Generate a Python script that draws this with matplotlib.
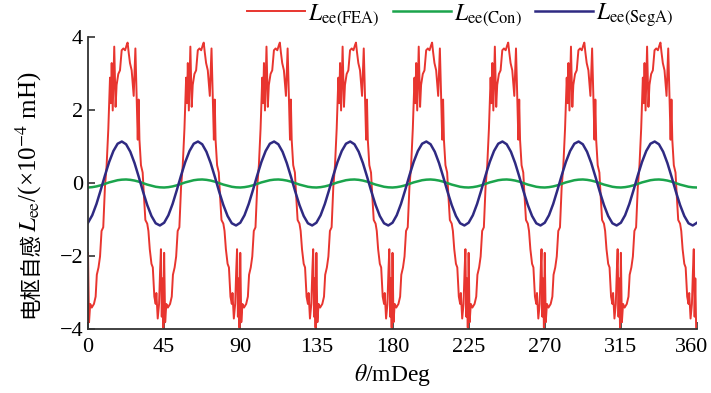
import numpy as np
import matplotlib
matplotlib.use('Agg')
import matplotlib.pyplot as plt
import matplotlib.transforms as mtransforms

plt.rcParams['font.family'] = ['Liberation Serif', 'Noto Sans CJK SC']
plt.rcParams['mathtext.fontset'] = 'stix'

# one 45 mDeg period of each curve (repeats 8 times)
period = 45
n_periods = 8

fea_x = [0.0, 0.6, 1.3, 2.2, 3.5, 4.5, 5.2, 6.2, 7.1, 8.0, 9.0, 10.0, 11.0, 12.0,
         13.0, 13.5, 14.0, 14.6, 15.5, 16.3, 16.9, 17.9, 18.9, 19.9, 20.9, 21.9,
         22.9, 23.4, 24.0, 24.8, 25.8, 27.0, 28.0, 28.8, 29.4, 29.9, 30.4, 31.3,
         32.3, 33.0, 33.9, 35.0, 35.7, 36.5, 37.5, 38.3, 39.2, 40.0, 40.4, 41.2,
         42.0, 42.6, 43.1, 43.6, 44.0, 44.5]
fea_y = [-1.9, -3.8, -3.3, -3.4, -3.3, -3.1, -2.5, -2.3, -2.0, -1.3, -1.2, -0.1, 0.5, 1.5,
         2.9, 2.2, 3.3, 2.0, 3.75, 2.1, 2.7, 3.0, 3.1, 3.65, 3.7, 3.65,
         3.8, 3.86, 3.6, 3.3, 3.1, 2.4, 3.7, 2.3, 1.2, 2.3, 1.2, 0.5,
         0.3, -0.3, -1.0, -1.1, -1.3, -1.8, -2.2, -2.3, -3.1, -3.3, -3.0, -3.7,
         -3.3, -2.4, -1.8, -3.65, -2.6, -3.95]

smooth_x = [0, 2.5, 5, 7.5, 10, 12.5, 15, 17.5, 20, 22.5, 25, 27.5, 30, 32.5,
            35, 37.5, 40, 42.5]
con_y = [-0.11, -0.10, -0.08, -0.05, -0.01, 0.03, 0.06, 0.09, 0.105, 0.11,
         0.10, 0.08, 0.05, 0.01, -0.03, -0.06, -0.09, -0.105]
sega_y = [-1.075, -0.87, -0.56, -0.18, 0.22, 0.59, 0.89, 1.09, 1.15, 1.075,
          0.87, 0.56, 0.18, -0.22, -0.59, -0.89, -1.09, -1.15]

xticks = [0, 45, 90, 135, 180, 225, 270, 315, 360]
yticks = [-4, -2, 0, 2, 4]


def tile(xs, ys, close=False):
    x_all, y_all = [], []
    for k in range(n_periods):
        x_all += [x + k * period for x in xs]
        y_all += ys
    if close:
        x_all.append(n_periods * period)
        y_all.append(ys[0])
    return np.array(x_all), np.array(y_all)


fx, fy = tile(fea_x, fea_y)
cx, cy = tile(smooth_x, con_y, close=True)
sx, sy = tile(smooth_x, sega_y, close=True)

fig = plt.figure(figsize=(7.11, 3.93), dpi=100)
ax = fig.add_axes([0.1238, 0.1616, 0.8565, 0.743])

l1, = ax.plot(fx, fy, color='#e8352f', lw=1.4, label=r'$L_{\rm ee(FEA)}$')
l2, = ax.plot(cx, cy, color='#1ba44c', lw=1.8, label=r'$L_{\rm ee(Con)}$')
l3, = ax.plot(sx, sy, color='#2f2a82', lw=1.8, label=r'$L_{\rm ee(SegA)}$')

ax.set_xlim(0, 360)
ax.set_ylim(-4, 4)
ax.set_xticks(xticks)
ax.set_yticks(yticks)
ax.set_yticklabels(['\u22124', '\u22122', '0', '2', '4'])
ax.tick_params(direction='in', length=5, width=1.2, labelsize=16, color='#333333')
ax.tick_params(axis='x', pad=6)
for s in ['top', 'right']:
    ax.spines[s].set_visible(False)
for s in ['left', 'bottom']:
    ax.spines[s].set_linewidth(1.3)
    ax.spines[s].set_color('#333333')

# nudge the last x label so it stays inside the figure
last = ax.get_xticklabels()[-1]
last.set_transform(last.get_transform() +
                   mtransforms.ScaledTranslation(-5 / 100, 0, fig.dpi_scale_trans))

ax.set_xlabel(r'$\theta$/mDeg', fontsize=17, labelpad=4)

# y label in two pieces: CJK part and the math part
base_x = 0.051
join_y = 1 - 232 / 393
fig.text(base_x, join_y, '电枢自感', family='Noto Sans CJK SC', fontsize=15.5,
         rotation=90, rotation_mode='anchor', ha='right', va='baseline')
fig.text(base_x, join_y, r'$L_{\rm ee}$/(×10$^{-4}$ mH)', fontsize=18,
         rotation=90, rotation_mode='anchor', ha='left', va='baseline')

fig.legend(handles=[l1, l2, l3], loc='center', bbox_to_anchor=(0.647, 0.962),
           ncol=3, frameon=False, fontsize=17, handlelength=2.45,
           columnspacing=0.55, handletextpad=0.15)

plt.savefig('out.png', dpi=100)
